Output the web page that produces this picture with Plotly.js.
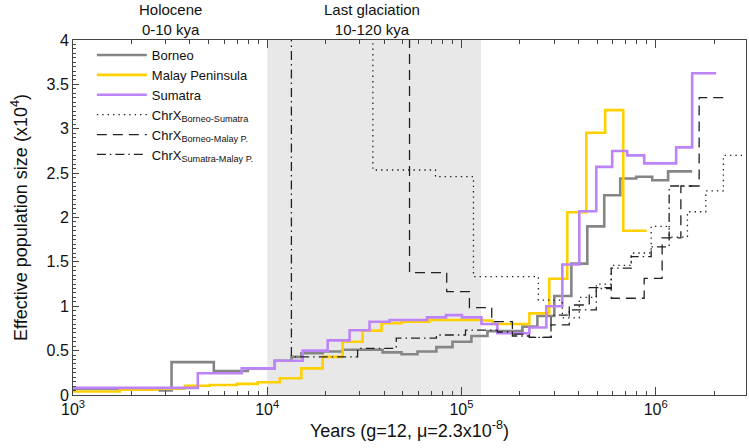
<!DOCTYPE html>
<html>
<head>
<meta charset="utf-8">
<script src="https://cdn.plot.ly/plotly-3.0.1.min.js"></script>
<style>
  html, body { margin: 0; padding: 0; background: #fff; }
  #chart { width: 749px; height: 448px; }
</style>
</head>
<body>
<div id="chart"></div>
<script>
// ---- Data (years, effective population size x10^4) ----
const borneoYears = [1000, 2800, 3217, 5309, 7943, 10930, 13320, 14990, 19290, 24440, 39260, 49150, 59400, 74300, 89900, 112500, 136100, 206000, 246000, 300600, 368000, 444600, 543500, 657000, 794300, 959500, 1159000, 1541000];
const borneoNe    = [0.07, 0.05, 0.37, 0.27, 0.30, 0.386, 0.43, 0.47, 0.49, 0.51, 0.48, 0.46, 0.49, 0.54, 0.60, 0.665, 0.72, 0.77, 0.89, 1.115, 1.48, 1.90, 2.25, 2.44, 2.46, 2.42, 2.52, 2.52];

const malayYears = [1000, 1743, 2703, 3767, 5060, 6970, 8935, 11600, 14990, 19290, 24440, 30970, 38790, 49150, 68400, 126700, 144300, 223700, 283300, 350600, 439300, 549600, 680700, 898800];
const malayNe    = [0.04, 0.06, 0.07, 0.105, 0.113, 0.125, 0.143, 0.188, 0.30, 0.43, 0.60, 0.725, 0.81, 0.825, 0.845, 0.84, 0.80, 0.92, 1.31, 2.06, 2.955, 3.21, 1.85, 1.85];

const sumatraYears = [1000, 4392, 7394, 10930, 15220, 20470, 26550, 33650, 42640, 66460, 83230, 100600, 126700, 153100, 223700, 273600, 330600, 404300, 494400, 597100, 713300, 872500, 1274600, 1541000, 2047000];
const sumatraNe    = [0.08, 0.245, 0.30, 0.386, 0.50, 0.615, 0.73, 0.825, 0.845, 0.875, 0.90, 0.875, 0.80, 0.695, 0.76, 1.0, 1.47, 2.07, 2.57, 2.75, 2.70, 2.61, 2.79, 3.625, 3.625];

const chrxBSYears = [1000, 34990, 73500, 115300, 248900, 330600, 404300, 494400, 590400, 748200, 948000, 1173000, 1457000, 1811000, 2232000, 2784000];
const chrxBSNe    = [6, 2.535, 2.46, 1.333, 1.07, 0.87, 1.10, 1.25, 1.46, 1.60, 1.90, 1.78, 2.065, 2.30, 2.70, 2.70];

const chrxBMYears = [1000, 54030, 83970, 109900, 143200, 182900, 223700, 289100, 359000, 455000, 590400, 872500, 1079300, 1348000, 1674000, 2304000];
const chrxBMNe    = [6, 1.38, 1.165, 0.985, 0.826, 0.687, 0.65, 0.79, 1.014, 1.21, 1.09, 1.315, 1.77, 2.355, 3.35, 3.35];

const chrxSMYears = [1000, 13320, 29190, 46160, 74300, 104900, 153100, 182900, 223700, 289100, 359000, 494400, 590400, 748200, 948000, 1173000, 1541000];
const chrxSMNe    = [6, 0.43, 0.525, 0.64, 0.676, 0.73, 0.71, 0.665, 0.65, 0.90, 0.96, 1.20, 1.43, 1.56, 1.67, 2.355, 2.355];

const glaciation = [1e4, 1.26e5];
const holocene = [1e3, 1e4];
const xTickVals = [1e3, 1e4, 1e5, 1e6];
const xTickText = ['10<sup>3</sup>', '10<sup>4</sup>', '10<sup>5</sup>', '10<sup>6</sup>'];
const yTickVals = [0, 0.5, 1, 1.5, 2, 2.5, 3, 3.5, 4];
const yTickText = ['0', '0.5', '1', '1.5', '2', '2.5', '3', '3.5', '4'];

// ---- minor ticks on log axis ----
const minorX = [];
for (let e = 3; e <= 6; e++) for (let d = 2; d <= 9; d++) minorX.push(d * Math.pow(10, e));

const FONT = 'Liberation Sans, Arial, Helvetica, sans-serif';

function step(name, x, y, color, width, dash) {
  return { type: 'scatter', mode: 'lines', name: name, x: x, y: y,
    line: { shape: 'hv', color: color, width: width, dash: dash || 'solid' },
    hoverinfo: 'skip' };
}

const traces = [
  { type: 'scatter', mode: 'lines', x: [glaciation[0], glaciation[1], glaciation[1], glaciation[0], glaciation[0]],
    y: [0, 0, 4, 4, 0], fill: 'toself', fillcolor: '#e8e8e8', line: { width: 0, color: 'rgba(0,0,0,0)' },
    showlegend: false, hoverinfo: 'skip' },
  step('Borneo', borneoYears, borneoNe, '#858585', 2.6),
  step('Malay Peninsula', malayYears, malayNe, '#FFD000', 2.6),
  step('Sumatra', sumatraYears, sumatraNe, '#BD84FA', 2.6),
  step('ChrX<sub>Borneo-Sumatra</sub>', chrxBSYears, chrxBSNe, '#222', 1.3, '1.4px,4px'),
  step('ChrX<sub>Borneo-Malay P.</sub>', chrxBMYears, chrxBMNe, '#222', 1.3, '10px,6px'),
  step('ChrX<sub>Sumatra-Malay P.</sub>', chrxSMYears, chrxSMNe, '#222', 1.3, '9px,4px,1.5px,4px')
];

const xr = [3, 6.465];
const layout = {
  width: 749, height: 448,
  margin: { l: 73, r: 3, t: 40, b: 53 },
  paper_bgcolor: '#fff', plot_bgcolor: '#fff',
  font: { family: FONT, size: 15, color: '#111' },
  showlegend: true,
  legend: { x: 0.028, y: 1.0, xanchor: 'left', yanchor: 'top', bgcolor: 'rgba(0,0,0,0)',
    font: { family: FONT, size: 13, color: '#111' }, itemwidth: 50, tracegroupgap: 0 },
  xaxis: {
    type: 'log', range: xr, showgrid: false, zeroline: false,
    tickmode: 'array', tickvals: xTickVals, ticktext: xTickText,
    ticks: 'inside', ticklen: 8, tickwidth: 1, tickcolor: '#444',
    showline: true, linecolor: '#444', linewidth: 1, mirror: 'ticks',
    tickfont: { family: FONT, size: 16, color: '#111' },
    minor: { tickmode: 'array', tickvals: minorX, ticks: 'inside', ticklen: 4, tickwidth: 1, tickcolor: '#444' },
    title: { text: 'Years (g=12, \u03bc=2.3x10<sup>-8</sup>)', font: { family: FONT, size: 18, color: '#111' }, standoff: 4 }
  },
  yaxis: {
    range: [0, 4], showgrid: false, zeroline: false,
    tickmode: 'array', tickvals: yTickVals, ticktext: yTickText,
    ticks: 'inside', ticklen: 6, tickwidth: 1, tickcolor: '#444',
    showline: true, linecolor: '#444', linewidth: 1, mirror: true,
    tickfont: { family: FONT, size: 16, color: '#111' },
    minor: { dtick: 0.05, ticks: 'inside', ticklen: 3, tickwidth: 1, tickcolor: '#444' },
    title: { text: 'Effective population size (x10<sup>4</sup>)', font: { family: FONT, size: 18, color: '#111' }, standoff: 14 }
  },
  annotations: [
    { xref: 'x', yref: 'paper', x: (Math.log10(holocene[0]) + Math.log10(holocene[1])) / 2, y: 1, yanchor: 'bottom', yshift: 0,
      text: 'Holocene<br>0-10 kya', showarrow: false, font: { family: FONT, size: 15, color: '#111' } },
    { xref: 'x', yref: 'paper', x: (Math.log10(glaciation[0]) + Math.log10(1.2e5)) / 2, y: 1, yanchor: 'bottom', yshift: 0,
      text: 'Last glaciation<br>10-120 kya', showarrow: false, font: { family: FONT, size: 15, color: '#111' } }
  ]
};

Plotly.newPlot('chart', traces, layout, { displayModeBar: false, staticPlot: true });
</script>
</body>
</html>
